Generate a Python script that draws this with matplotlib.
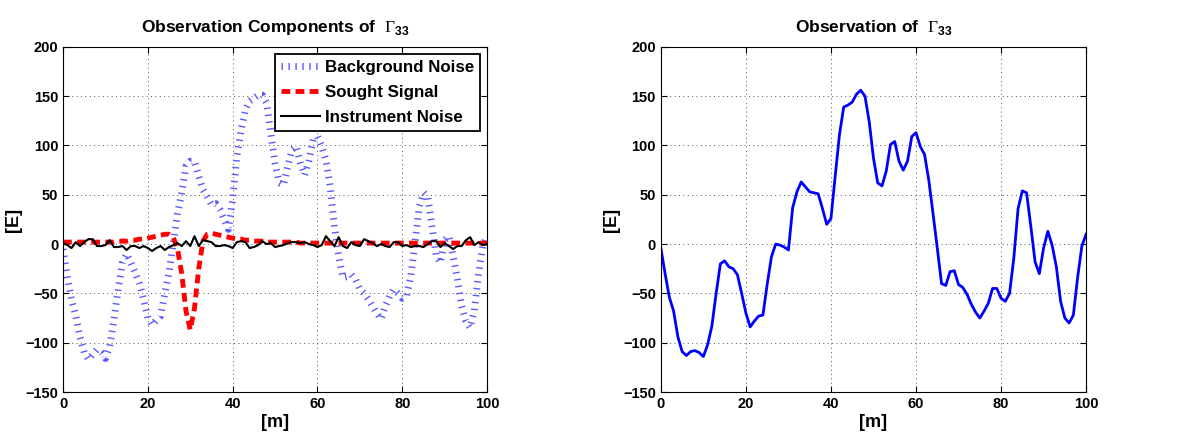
import numpy as np
import matplotlib
matplotlib.use("Agg")
import matplotlib.pyplot as plt

plt.rcParams['font.family'] = ['Liberation Sans', 'DejaVu Sans']
plt.rcParams['mathtext.fontset'] = 'custom'
plt.rcParams['mathtext.rm'] = 'Liberation Serif'
plt.rcParams['mathtext.bf'] = 'Liberation Sans:bold'

# posicion a lo largo del perfil [m]
x = np.arange(0, 101)

background = [-5, -33, -56, -73, -94, -110, -117, -112, -107, -110,
              -116, -104, -77, -46, -19, -10, -19, -29, -40, -56,
              -75, -82, -77, -73, -50, -29, 1, 31, 52, 79,
              84, 84, 69, 55, 48, 40, 41, 35, 25, 15,
              45, 89, 116, 136, 145, 148, 151, 151, 143, 112,
              82, 62, 60, 79, 96, 99, 82, 70, 85, 106,
              109, 99, 85, 58, 18, -12, -34, -33, -31, -36,
              -46, -50, -56, -63, -70, -76, -63, -53, -46, -50,
              -55, -53, -33, 1, 38, 52, 48, 18, -12, -19,
              4, 8, -12, -36, -63, -78, -85, -67, -29, -2, 9]

# senal buscada
signal = [2, 2, 2, 2, 2, 2, 2, 2, 2, 2,
          2, 2, 2, 3, 3, 3, 4, 4, 5, 5,
          6, 7, 8, 9, 10, 10, 7, -5, -30, -68,
          -87, -65, -25, 3, 10, 11, 10, 9, 8, 7,
          6, 5, 5, 4, 4, 3, 3, 3, 2, 2,
          2, 2, 2, 2, 2, 2, 1, 1, 1, 1,
          1, 1, 1, 1, 1, 1, 1, 1, 1, 1,
          1, 1, 1, 1, 1, 1, 1, 1, 1, 1,
          1, 1, 1, 1, 1, 1, 1, 1, 1, 1,
          1, 1, 1, 1, 1, 1, 1, 1, 1, 1, 1]

# ruido instrumental
instrument = [1, -1, -4, 2, -2, 2, 5, 5, -2, -2,
              -1, 4, -3, -3, -2, -6, -2, -2, -4, -2,
              -4, -7, -4, -2, -6, -3, -1, 1, -2, 3,
              -2, 8, -2, 4, 3, 2, -2, -2, -1, -2,
              -4, 2, 3, 2, -4, -3, -1, 3, 0, 1,
              -3, -2, -1, 1, 2, 2, 1, 2, 0, -1,
              -3, -1, 8, 3, -2, 7, -2, -4, 2, -1,
              -2, 5, 3, 1, -2, 0, -2, -3, 2, 2,
              -2, -1, -3, -2, -2, -3, 0, 3, 3, -3,
              1, -2, -5, -2, -2, 4, 7, -1, 2, -1, 0]

# observacion total (grafica derecha)
observation = [-4, -30, -54, -68, -94, -109, -113, -109, -108, -110,
               -114, -102, -83, -50, -20, -17, -23, -25, -31, -50,
               -70, -84, -78, -73, -72, -41, -13, 0, -1, -3,
               -6, 37, 53, 63, 58, 53, 52, 51, 36, 20,
               26, 69, 111, 139, 141, 144, 152, 156, 150, 124,
               87, 62, 59, 74, 101, 104, 84, 75, 84, 109,
               113, 99, 91, 65, 31, -4, -40, -42, -28, -27,
               -41, -44, -51, -61, -69, -75, -68, -60, -45, -45,
               -55, -58, -50, -14, 36, 54, 52, 18, -18, -30,
               -4, 13, -1, -23, -58, -75, -80, -72, -34, -2, 10]

fig = plt.figure(figsize=(11.78, 4.38), dpi=100)
ax1 = fig.add_axes([0.0535, 0.105, 0.36, 0.788])
ax2 = fig.add_axes([0.561, 0.105, 0.361, 0.788])

ax1.plot(x, background, color='#5a5aff', lw=5, dashes=(0.2, 0.8),
         label='Background Noise')
ax1.plot(x, signal, color='red', lw=3.5, ls=(0, (1.8, 1.1)), label='Sought Signal')
ax1.plot(x, instrument, color='black', lw=1.5, label='Instrument Noise')
ax1.set_title(r'Observation Components of  $\Gamma_{\mathbf{33}}$',
              fontsize=12.5, fontweight='bold', pad=11)
leg = ax1.legend(loc='upper right', prop={'weight': 'bold', 'size': 12.2},
                 fancybox=False, framealpha=1, edgecolor='black',
                 borderpad=0.35, labelspacing=0.6, handlelength=2.3,
                 handletextpad=0.3, borderaxespad=0.4)
leg.get_frame().set_linewidth(1.3)

ax2.plot(x, observation, color='blue', lw=2)
ax2.set_title(r'Observation of  $\Gamma_{\mathbf{33}}$', fontsize=12.5,
              fontweight='bold', pad=11)

for ax in (ax1, ax2):
    ax.set_xlim(0, 100)
    ax.set_ylim(-150, 200)
    ax.set_xticks([0, 20, 40, 60, 80, 100])
    ax.set_yticks([-150, -100, -50, 0, 50, 100, 150, 200])
    ax.grid(True, color='#555555', lw=0.7, dashes=(1, 3.5))
    ax.tick_params(direction='in', length=4, labelsize=10.5, top=True, right=True)
    for lab in ax.get_xticklabels() + ax.get_yticklabels():
        lab.set_fontweight('bold')
    ax.set_xlabel('[m]', fontsize=13, fontweight='bold', labelpad=2)
    ax.set_ylabel('[E]', fontsize=13, fontweight='bold', labelpad=2)

fig.savefig('out.png', dpi=100)
